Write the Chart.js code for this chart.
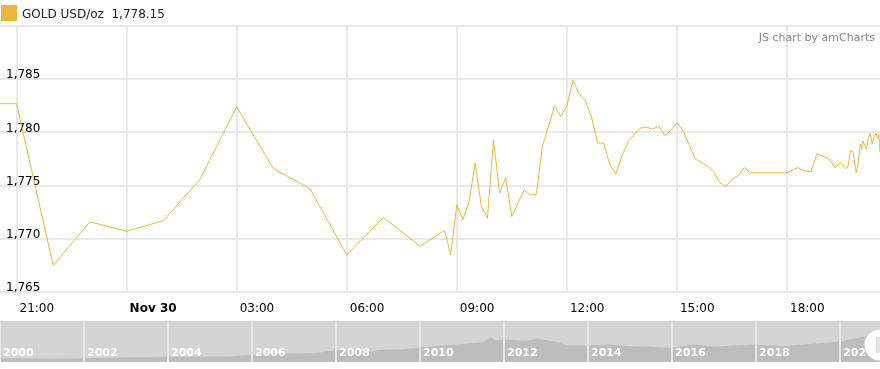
<!DOCTYPE html>
<html>
<head>
<meta charset="utf-8">
<script src="https://cdn.jsdelivr.net/npm/chart.js@4.4.0/dist/chart.umd.min.js"></script>
<style>
    body { margin: 0; width: 880px; height: 369px; background: #fff; overflow: hidden; position: relative; font-family: 'DejaVu Sans', Verdana, sans-serif; }
    #legend { position: absolute; left: 0; top: 0; height: 26px; }
    #swatch { position: absolute; left: 1px; top: 5px; width: 16px; height: 16px; background: #e9b73c; }
    #legendText { position: absolute; left: 22px; top: 6px; line-height: 16px; font-size: 12px; color: #222; white-space: pre; }
    #credit { position: absolute; right: 5px; top: 31px; font-size: 11px; color: #888; white-space: nowrap; }
    #mainChart { position: absolute; left: 0; top: 0; }
    #navChart { position: absolute; left: 0; top: 321px; background: #d4d4d4; }
</style>
</head>
<body>
<canvas id="mainChart" width="880" height="320"></canvas>
<div id="legend"><div id="swatch"></div><div id="legendText"></div></div>
<div id="credit">JS chart by amCharts</div>
<canvas id="navChart" width="880" height="41"></canvas>
<script>
// gold spot, 24h window
const times = [
    '11-29 20:33', '11-29 21:00', '11-29 22:00', '11-29 23:00', '11-30 00:00', '11-30 01:00',
    '11-30 02:00', '11-30 03:00', '11-30 04:00', '11-30 05:00', '11-30 06:00', '11-30 07:00',
    '11-30 08:00', '11-30 08:40', '11-30 08:50', '11-30 09:00', '11-30 09:10', '11-30 09:20',
    '11-30 09:30', '11-30 09:40', '11-30 09:50', '11-30 10:00', '11-30 10:10', '11-30 10:20',
    '11-30 10:30', '11-30 10:50', '11-30 11:00', '11-30 11:10', '11-30 11:20', '11-30 11:40',
    '11-30 11:50', '11-30 12:00', '11-30 12:10', '11-30 12:20', '11-30 12:30', '11-30 12:40',
    '11-30 12:50', '11-30 13:00', '11-30 13:10', '11-30 13:20', '11-30 13:30', '11-30 13:40',
    '11-30 13:50', '11-30 14:00', '11-30 14:10', '11-30 14:20', '11-30 14:30', '11-30 14:40',
    '11-30 14:50', '11-30 15:00', '11-30 15:10', '11-30 15:20', '11-30 15:30', '11-30 15:40',
    '11-30 15:50', '11-30 16:00', '11-30 16:10', '11-30 16:20', '11-30 16:30', '11-30 16:40',
    '11-30 16:50', '11-30 17:00', '11-30 18:00', '11-30 18:17', '11-30 18:28', '11-30 18:39',
    '11-30 18:49', '11-30 19:09', '11-30 19:19', '11-30 19:28', '11-30 19:33', '11-30 19:37',
    '11-30 19:40', '11-30 19:44', '11-30 19:48', '11-30 19:53', '11-30 19:56', '11-30 20:00',
    '11-30 20:02', '11-30 20:04', '11-30 20:07', '11-30 20:10', '11-30 20:13', '11-30 20:16',
    '11-30 20:19', '11-30 20:23', '11-30 20:26', '11-30 20:28', '11-30 20:30', '11-30 20:32'
];
const prices = [
    1782.7, 1782.7, 1767.5, 1771.6, 1770.7, 1771.7,
    1775.6, 1782.4, 1776.6, 1774.7, 1768.5, 1772.0,
    1769.3, 1770.8, 1768.5, 1773.2, 1771.8, 1773.5,
    1777.1, 1773.1, 1771.9, 1779.3, 1774.3, 1775.7,
    1772.1, 1774.6, 1774.1, 1774.2, 1778.7, 1782.5,
    1781.5, 1782.5, 1784.9, 1783.6, 1783.0, 1781.5,
    1779.0, 1779.0, 1777.0, 1776.1, 1777.8, 1779.1,
    1779.8, 1780.4, 1780.5, 1780.3, 1780.6, 1779.7,
    1780.2, 1780.9, 1780.2, 1778.8, 1777.5, 1777.2,
    1776.8, 1776.3, 1775.3, 1774.9, 1775.6, 1775.9,
    1776.7, 1776.2, 1776.2, 1776.7, 1776.4, 1776.3,
    1778.0, 1777.5, 1776.7, 1777.2, 1776.8, 1776.6,
    1776.9, 1778.3, 1778.2, 1776.2, 1777.0, 1778.9,
    1778.4, 1779.2, 1778.8, 1778.4, 1779.5, 1779.9,
    1778.9, 1779.7, 1779.9, 1779.4, 1779.8, 1778.15
];
// x ticks in minutes from Nov 30 00:00
const tickMinutes = [-180, 0, 180, 360, 540, 720, 900, 1080];
const tickLabels = ['21:00', 'Nov 30', '03:00', '06:00', '09:00', '12:00', '15:00', '18:00'];
const priceTicks = [1765, 1770, 1775, 1780, 1785, 1790];

// scrollbar (long history)
const navYears = [2000, 2000.5, 2001, 2001.5, 2002, 2002.5, 2003, 2003.5, 2004, 2004.5, 2005, 2005.5,
    2006, 2006.5, 2007, 2007.5, 2008, 2008.5, 2008.8, 2009, 2009.5, 2010, 2010.5, 2011, 2011.5,
    2011.67, 2011.8, 2012, 2012.5, 2012.8, 2013, 2013.3, 2013.5, 2014, 2014.5, 2015, 2015.5, 2015.95,
    2016, 2016.5, 2017, 2017.5, 2018, 2018.7, 2019, 2019.5, 2020, 2020.6, 2020.95];
const navPrices = [285, 280, 265, 270, 280, 315, 350, 350, 410, 400, 425, 430,
    550, 620, 640, 670, 900, 880, 750, 900, 940, 1100, 1230, 1360, 1500,
    1850, 1650, 1700, 1600, 1750, 1660, 1480, 1250, 1250, 1320, 1200, 1150, 1060,
    1100, 1330, 1150, 1250, 1330, 1200, 1290, 1420, 1550, 1950, 1800];
const navTicks = [2000, 2002, 2004, 2006, 2008, 2010, 2012, 2014, 2016, 2018, 2020];

const FONT = "'DejaVu Sans', Verdana, sans-serif";
const GOLD = '#ebb83c';

function toMinutes(t) {
    const [d, hm] = t.split(' ');
    const [h, m] = hm.split(':').map(Number);
    return (d === '11-29' ? -1440 : 0) + h * 60 + m;
}
function withComma(v) {
    const [i, f] = String(v).split('.');
    return i.replace(/\B(?=(\d{3})+$)/g, ',') + (f ? '.' + f : '');
}

document.getElementById('legendText').textContent = 'GOLD USD/oz  ' + withComma(prices[prices.length - 1].toFixed(2));

new Chart(document.getElementById('mainChart'), {
    type: 'line',
    data: {
        datasets: [{
            data: times.map((t, i) => ({ x: toMinutes(t), y: prices[i] })),
            borderColor: GOLD,
            borderWidth: 1,
            pointRadius: 0,
            fill: false,
            tension: 0
        }]
    },
    options: {
        responsive: false,
        animation: false,
        layout: { padding: { top: 26, left: 0, right: 0, bottom: 0 } },
        plugins: { legend: { display: false }, tooltip: { enabled: false } },
        scales: {
            x: {
                type: 'linear',
                min: -207,
                max: 1232,
                afterBuildTicks: s => { s.ticks = tickMinutes.map(v => ({ value: v })); },
                afterFit: s => { s.height = 28; },
                border: { display: false },
                grid: { color: '#e9e9e9', lineWidth: 2, drawTicks: false },
                ticks: {
                    align: 'start',
                    labelOffset: 3,
                    padding: 10,
                    maxRotation: 0,
                    color: '#000',
                    font: ctx => ({ family: FONT, size: 12, weight: ctx.tick && ctx.tick.value === 0 ? 'bold' : 'normal' }),
                    callback: (v, i) => tickLabels[i]
                }
            },
            y: {
                min: 1765,
                max: 1790,
                afterBuildTicks: s => { s.ticks = priceTicks.map(v => ({ value: v })); },
                afterFit: s => { s.width = 0; },
                border: { display: false },
                grid: { color: '#e9e9e9', lineWidth: 2, drawTicks: false },
                ticks: {
                    mirror: true,
                    padding: 6,
                    labelOffset: -4,
                    color: '#000',
                    font: { family: FONT, size: 12 },
                    callback: v => v === 1790 ? '' : withComma(v)
                }
            }
        }
    }
});

// scrollbar grip on the right edge
const gripPlugin = {
    id: 'grip',
    afterDraw(chart) {
        const ctx = chart.ctx;
        ctx.save();
        ctx.beginPath();
        ctx.arc(880, 24, 16, 0, Math.PI * 2);
        ctx.fillStyle = '#fff';
        ctx.fill();
        ctx.strokeStyle = '#d0d0d0';
        ctx.lineWidth = 1;
        ctx.stroke();
        ctx.fillStyle = '#e4e4e4';
        ctx.fillRect(876, 16, 4, 16);
        ctx.restore();
    }
};

new Chart(document.getElementById('navChart'), {
    type: 'line',
    data: {
        datasets: [{
            data: navYears.map((y, i) => ({ x: y, y: navPrices[i] })),
            borderWidth: 0,
            borderColor: 'rgba(0,0,0,0)',
            backgroundColor: '#bdbdbd',
            pointRadius: 0,
            fill: 'origin',
            tension: 0
        }]
    },
    options: {
        responsive: false,
        animation: false,
        layout: { padding: 0 },
        plugins: { legend: { display: false }, tooltip: { enabled: false } },
        scales: {
            x: {
                type: 'linear',
                min: 2000,
                max: 2020.95,
                afterBuildTicks: s => { s.ticks = navTicks.map(v => ({ value: v })); },
                afterFit: s => { s.height = 0; s.paddingLeft = 0; s.paddingRight = 0; },
                border: { display: false },
                grid: { color: '#e6e6e6', lineWidth: 2, drawTicks: false, z: 1 },
                ticks: {
                    z: 2,
                    mirror: true,
                    align: 'start',
                    labelOffset: 3,
                    padding: 2,
                    maxRotation: 0,
                    color: '#fff',
                    font: { family: FONT, size: 11, weight: 'bold' },
                    callback: v => String(v)
                }
            },
            y: { display: false, min: 0, max: 3100 }
        }
    },
    plugins: [gripPlugin]
});
</script>
</body>
</html>
